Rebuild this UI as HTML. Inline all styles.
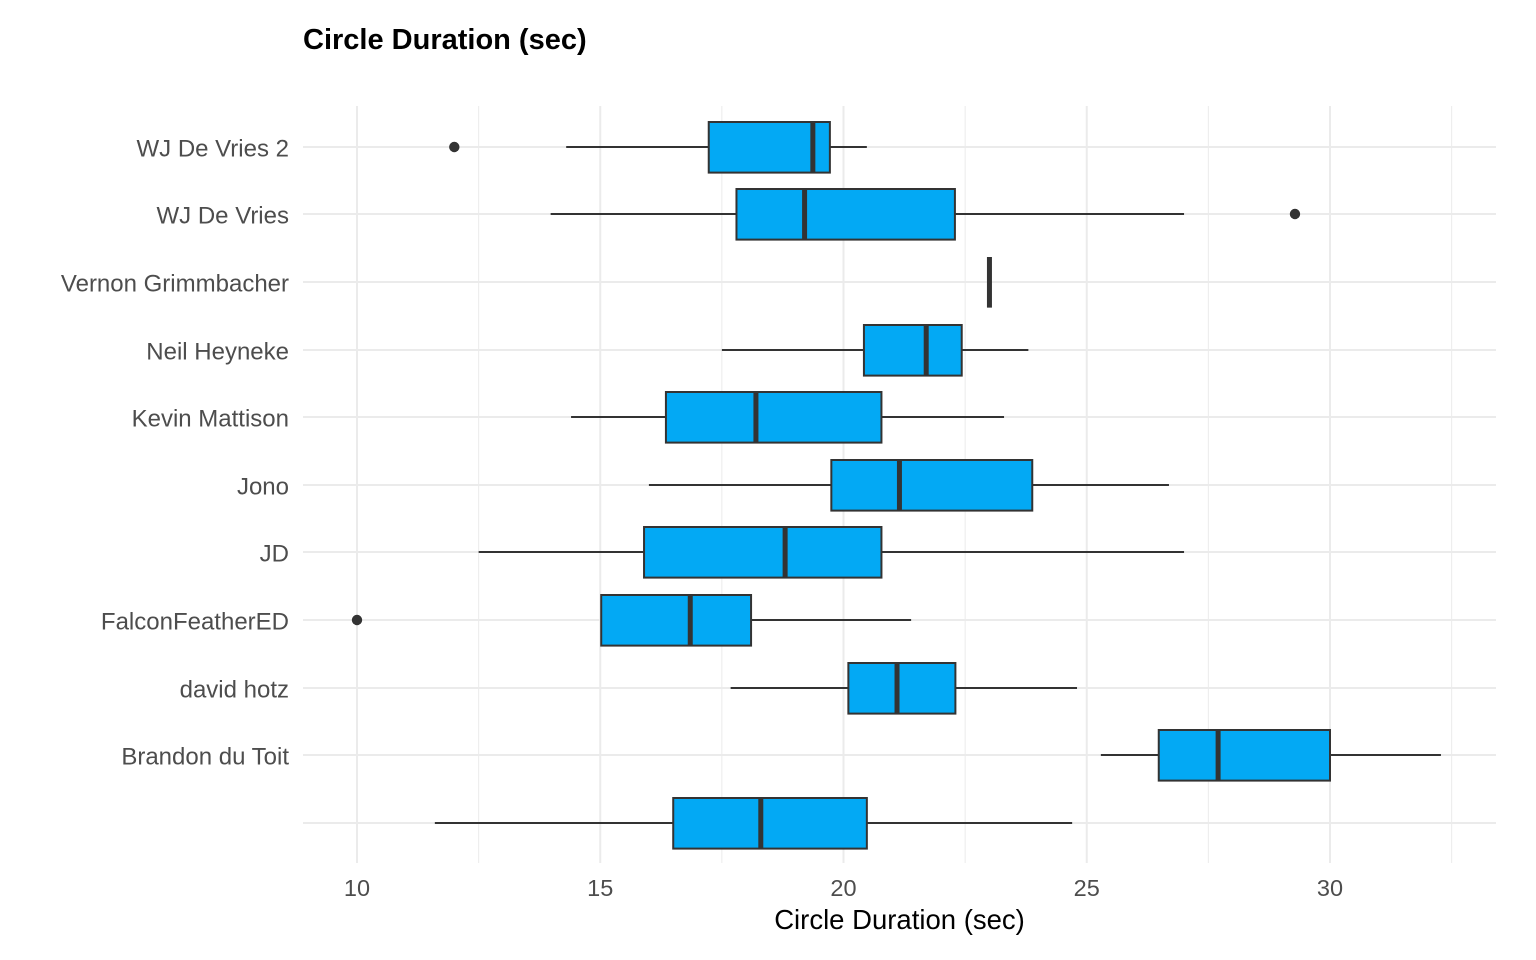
<!DOCTYPE html>
<html lang="en">
<head>
<meta charset="utf-8">
<title>Circle Duration (sec)</title>
<style>
html,body{margin:0;padding:0;background:#fff;}
svg{display:block;font-family:"Liberation Sans",Arial,sans-serif;}
</style>
</head>
<body>
<svg id="chart" xmlns="http://www.w3.org/2000/svg" width="1536" height="960" viewBox="0 0 1536 960">
<rect width="1536" height="960" fill="#ffffff"/>
<text x="303" y="49" font-size="29" font-weight="bold" fill="#000000">Circle Duration (sec)</text>
<text x="899.5" y="929" font-size="27.5" text-anchor="middle" fill="#000000">Circle Duration (sec)</text>
<g id="grid"></g>
<g id="xticks"></g>
<g id="yticks"></g>
<g id="boxes"></g>
</svg>
<script>
const categories = ["", "Brandon du Toit", "david hotz", "FalconFeatherED", "JD", "Jono", "Kevin Mattison", "Neil Heyneke", "Vernon Grimmbacher", "WJ De Vries", "WJ De Vries 2"];
const whiskerLow = [11.6, 25.29, 17.68, 15.02, 12.5, 16, 14.4, 17.5, 23, 13.98, 14.3];
const q1 = [16.5, 26.48, 20.1, 15.02, 15.9, 19.75, 16.35, 20.42, 23, 17.8, 17.23];
const median = [18.3, 27.7, 21.1, 16.85, 18.8, 21.15, 18.2, 21.7, 23, 19.2, 19.37];
const q3 = [20.48, 30, 22.3, 18.1, 20.78, 23.88, 20.78, 22.43, 23, 22.29, 19.72];
const whiskerHigh = [24.7, 32.28, 24.8, 21.39, 27, 26.69, 23.3, 23.8, 23, 27, 20.48];
const outliers = [[], [], [], [10], [], [], [], [], [], [29.28], [12]];
const xTickValues = [10, 15, 20, 25, 30];
const xMinorValues = [12.5, 17.5, 22.5, 27.5, 32.5];

const NS = "http://www.w3.org/2000/svg";
const PANEL = {left: 303, right: 1496, top: 106, bottom: 863};
const xScale = v => 357 + (v - 10) * 48.65;
const yScale = i => Math.round(823 - i * 67.63);
const BOX_H = 50.6;
const INK = "#333333";

function make(parent, tag, attrs) {
  const el = document.createElementNS(NS, tag);
  for (const k in attrs) el.setAttribute(k, attrs[k]);
  parent.appendChild(el);
  return el;
}

const grid = document.getElementById("grid");
const xticks = document.getElementById("xticks");
const yticks = document.getElementById("yticks");
const boxes = document.getElementById("boxes");

xMinorValues.forEach(v => {
  const el = make(grid, "line", {x1: xScale(v), x2: xScale(v), y1: PANEL.top, y2: PANEL.bottom, stroke: "#ebebeb", "stroke-width": 1});
  
  
});
xTickValues.forEach(v => {
  const el = make(grid, "line", {x1: xScale(v), x2: xScale(v), y1: PANEL.top, y2: PANEL.bottom, stroke: "#ebebeb", "stroke-width": 2});
  
  
  const t = make(xticks, "text", {x: xScale(v), y: 896, "font-size": 23.5, "text-anchor": "middle", fill: "#4d4d4d"});
  t.textContent = v;
  
  
});
categories.forEach((c, i) => {
  const y = yScale(i);
  const gl = make(grid, "line", {x1: PANEL.left, x2: PANEL.right, y1: y, y2: y, stroke: "#ebebeb", "stroke-width": 2});
  
  
  if (c) {
    const t = make(yticks, "text", {x: 289, y: y + 9.5, "font-size": 24, "text-anchor": "end", fill: "#4d4d4d"});
    t.textContent = c;
    
    
  }
});
categories.forEach((c, i) => {
  const y = yScale(i);
  const g = make(boxes, "g", {});
  
  
  const wl = make(g, "line", {x1: xScale(whiskerLow[i]), x2: xScale(q1[i]), y1: y, y2: y, stroke: INK, "stroke-width": 2});
  
  
  const wh = make(g, "line", {x1: xScale(q3[i]), x2: xScale(whiskerHigh[i]), y1: y, y2: y, stroke: INK, "stroke-width": 2});
  
  
  const r = make(g, "rect", {x: xScale(q1[i]), y: y - 25, width: xScale(q3[i]) - xScale(q1[i]), height: BOX_H, fill: "#03a9f4", stroke: INK, "stroke-width": 2});
  
  
  const m = make(g, "line", {x1: xScale(median[i]), x2: xScale(median[i]), y1: y - 25, y2: y + 25.6, stroke: INK, "stroke-width": 5});
  
  
  outliers[i].forEach(v => {
    const o = make(g, "circle", {cx: xScale(v), cy: y, r: 5.2, fill: INK});
    
    
  });
});
</script>
</body>
</html>
